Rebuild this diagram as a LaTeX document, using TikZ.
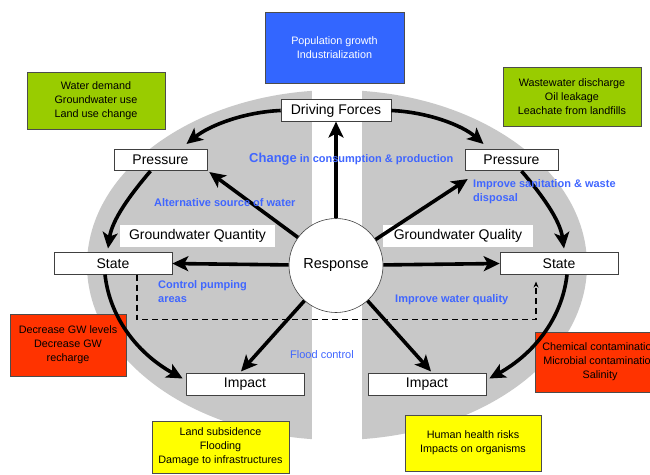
\documentclass[tikz,border=0pt]{standalone}
\usepackage{fontspec}
\setmainfont{Liberation Sans}
\usetikzlibrary{arrows.meta,calc}
\definecolor{popblue}{RGB}{51,102,255}
\definecolor{drvgreen}{RGB}{153,204,0}
\definecolor{impred}{RGB}{255,51,0}
\definecolor{effyellow}{RGB}{255,255,0}
\definecolor{labblue}{RGB}{64,102,255}
\definecolor{ring}{RGB}{200,200,200}

\begin{document}
\begin{tikzpicture}[x=1pt,y=-1pt,
  stage/.style={draw=black!75,fill=white,line width=0.6pt,inner sep=0pt,minimum height=21.5pt,font=\fontsize{14}{16}\selectfont},
  tag/.style={fill=white,inner sep=0pt,minimum height=22pt,font=\fontsize{14}{16}\selectfont},
  note/.style={draw=black!70,line width=0.6pt,align=center,inner sep=0pt,font=\fontsize{10.8}{14}\selectfont},
  lab/.style={text=labblue,inner sep=0pt,align=left,font=\fontsize{11}{14}\selectfont\bfseries},
  flow/.style={line width=3.6pt,-{Stealth[length=16pt,width=15pt,inset=4pt]}},
  dashline/.style={line width=1.4pt,dash pattern=on 6pt off 4pt,-{Stealth[length=6pt,width=5pt]}}]
\useasboundingbox (0,0) rectangle (650,474);
% grey ring split in two halves
\fill[ring] (337,265) ellipse [x radius=250, y radius=175];
\fill[white] (312,85) rectangle (362,445);
% driver, pressure and impact notes
\node[note,fill=popblue,text=white,minimum width=139pt,minimum height=71pt] (pop) at (334.5,47.5) {Population growth\\Industrialization};
\node[note,fill=drvgreen,minimum width=138pt,minimum height=57pt] (usel) at (96,100.5) {Water demand\\Groundwater use\\Land use change};
\node[note,fill=drvgreen,minimum width=138pt,minimum height=59pt] (user) at (572,96.5) {Wastewater discharge\\Oil leakage\\Leachate from landfills};
\node[note,fill=impred,minimum width=116pt,minimum height=62pt] (effl) at (68,345) {Decrease GW levels\\Decrease GW\\recharge};
\node[note,fill=impred,minimum width=130pt,minimum height=60pt] (effr) at (600,362) {Chemical contamination\\Microbial contamination\\Salinity};
\node[note,fill=effyellow,minimum width=137pt,minimum height=52pt] (hitl) at (220.5,447) {Land subsidence\\Flooding\\Damage to infrastructures};
\node[note,fill=effyellow,minimum width=136pt,minimum height=56pt] (hitr) at (473,443) {Human health risks\\Impacts on organisms};
% DPSIR boxes
\node[stage,minimum width=110pt] (df) at (336,110.5) {Driving Forces};
\node[stage,minimum width=93pt] (lp) at (160.5,160) {Pressure};
\node[stage,minimum width=93pt] (rp) at (511.5,160) {Pressure};
\node[stage,minimum width=118pt] (ls) at (113,263.5) {State};
\node[stage,minimum width=118pt] (rs) at (559,263.5) {State};
\node[stage,minimum width=118pt] (li) at (245,384.5) {Impact};
\node[stage,minimum width=118pt] (ri) at (427,384.5) {Impact};
\node[tag,minimum width=155pt] (gqn) at (197.5,236) {Groundwater Quantity};
\node[tag,minimum width=150pt] (gql) at (458,236) {Groundwater Quality};
\node[draw=black!75,fill=white,circle,line width=0.6pt,minimum size=94pt,inner sep=0pt,font=\fontsize{14.5}{16}\selectfont] (resp) at (336,265.5) {Response};
% cycle round the ring
\draw[flow] (df.west) .. controls (245,112) and (210,125) .. ($(lp.north)+(26,-5)$);
\draw[flow] (df.east) .. controls (427,112) and (462,125) .. ($(rp.north)+(-28,-5)$);
\draw[flow] ($(lp.south)+(-10,0)$) .. controls (130,195) and (112,220) .. ($(ls.north)+(-5,-4)$);
\draw[flow] ($(rp.south)+(10,0)$) .. controls (542,195) and (560,220) .. ($(rs.north)+(5,-4)$);
\draw[flow] ($(ls.south)+(-8,0)$) .. controls (110,320) and (140,355) .. ($(li.west)+(-3,-6)$);
\draw[flow] ($(rs.south)+(8,0)$) .. controls (562,320) and (532,355) .. ($(ri.east)+(3,-6)$);
% responses
\draw[flow] (resp.north) -- (df.south);
\draw[flow] (resp) -- ($(lp.south east)+(2,1)$);
\draw[flow] (resp) -- ($(rp.south west)+(3,8)$);
\draw[flow] (resp) -- (ls.east);
\draw[flow] (resp) -- (rs.west);
\draw[flow] (resp) -- ($(li.north)+(-4,-2)$);
\draw[flow] (resp) -- ($(ri.north)+(4,-2)$);
\draw[dashline] ($(ls.south)+(24,0)$) -- ++(0,45) -| ($(rs.south)+(-23,7)$);
% response labels
\node[lab,anchor=base west] (chg) at (249,162) {{\fontsize{13}{15}\selectfont Change} in consumption \& production};
\node[lab,anchor=base west] (alt) at (154,206) {Alternative source of water};
\node[lab,anchor=base west] (san) at (473,201) {Improve sanitation \& waste\\disposal};
\node[lab,anchor=base west] (pump) at (158,302) {Control pumping\\areas};
\node[lab,anchor=base west] (qual) at (395,302) {Improve water quality};
\node[lab,anchor=base west,font=\fontsize{11}{14}\selectfont] (flood) at (290,358) {Flood control};
\end{tikzpicture}
\end{document}
